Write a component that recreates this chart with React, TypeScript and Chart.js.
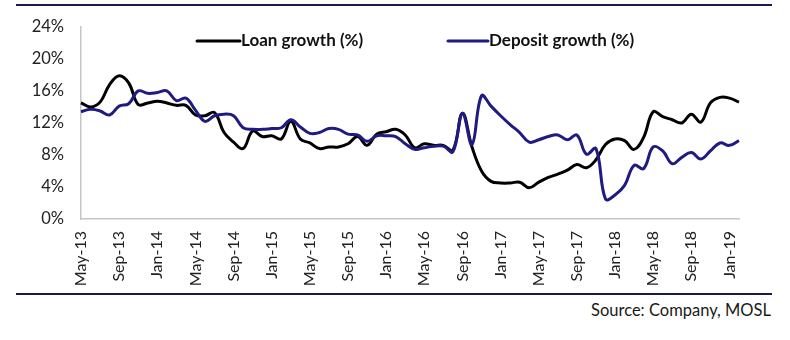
import React, { useEffect, useRef } from 'react';
import { Chart, registerables } from 'chart.js';

Chart.register(...registerables);

const categories = [
  'May-13', 'Jun-13', 'Jul-13', 'Aug-13', 'Sep-13', 'Oct-13', 'Nov-13', 'Dec-13',
  'Jan-14', 'Feb-14', 'Mar-14', 'Apr-14', 'May-14', 'Jun-14', 'Jul-14', 'Aug-14',
  'Sep-14', 'Oct-14', 'Nov-14', 'Dec-14', 'Jan-15', 'Feb-15', 'Mar-15', 'Apr-15',
  'May-15', 'Jun-15', 'Jul-15', 'Aug-15', 'Sep-15', 'Oct-15', 'Nov-15', 'Dec-15',
  'Jan-16', 'Feb-16', 'Mar-16', 'Apr-16', 'May-16', 'Jun-16', 'Jul-16', 'Aug-16',
  'Sep-16', 'Oct-16', 'Nov-16', 'Dec-16', 'Jan-17', 'Feb-17', 'Mar-17', 'Apr-17',
  'May-17', 'Jun-17', 'Jul-17', 'Aug-17', 'Sep-17', 'Oct-17', 'Nov-17', 'Dec-17',
  'Jan-18', 'Feb-18', 'Mar-18', 'Apr-18', 'May-18', 'Jun-18', 'Jul-18', 'Aug-18',
  'Sep-18', 'Oct-18', 'Nov-18', 'Dec-18', 'Jan-19', 'Feb-19',
];

const loanGrowth = [
  14.5, 14.0, 14.6, 16.8, 17.9, 17.0, 14.3, 14.5,
  14.7, 14.5, 14.2, 14.2, 13.0, 12.9, 13.3, 10.8,
  9.6, 8.8, 11.0, 10.3, 10.4, 10.0, 12.2, 10.0,
  9.5, 8.8, 9.0, 9.0, 9.4, 10.3, 9.2, 10.6,
  10.9, 11.2, 10.5, 8.9, 9.4, 9.2, 9.2, 8.6,
  13.2, 9.0, 6.0, 4.7, 4.5, 4.5, 4.6, 3.9,
  4.6, 5.2, 5.6, 6.1, 6.8, 6.4, 7.4, 9.3,
  10.0, 9.8, 8.7, 10.2, 13.4, 12.8, 12.4, 12.0,
  13.1, 12.1, 14.5, 15.2, 15.1, 14.6,
];

const depositGrowth = [
  13.4, 13.7, 13.5, 13.0, 14.1, 14.4, 16.0, 15.7,
  15.8, 16.0, 14.8, 15.1, 13.6, 12.2, 12.9, 13.1,
  12.9, 11.4, 11.2, 11.2, 11.3, 11.4, 12.4, 11.5,
  10.7, 10.8, 11.3, 11.2, 10.6, 10.5, 9.7, 10.4,
  10.4, 10.3, 9.4, 8.7, 8.9, 9.1, 9.1, 8.4,
  13.2, 9.3, 15.4, 14.1, 12.9, 11.8, 10.8, 9.6,
  9.9, 10.3, 10.5, 9.9, 10.5, 8.1, 8.8, 2.5,
  3.0, 4.2, 6.7, 6.3, 9.0, 8.5, 6.9, 7.7,
  8.3, 7.5, 8.5, 9.5, 9.2, 9.8,
];

const seriesNames = ['Loan growth (%)', 'Deposit growth (%)'];
const yTickValues = [0, 4, 8, 12, 16, 20, 24];
const sourceText = 'Source: Company, MOSL';

const FONT = 'Lato, "Open Sans", sans-serif';
const LOAN_COLOR = '#000000';
const DEPOSIT_COLOR = '#201b82';
const RULE_COLOR = '#1c1a4a';

const legendPlacement = [
  { x0: 197, x1: 240 },
  { x0: 448, x1: 488 },
];

const insideLegend = {
  id: 'insideLegend',
  afterDraw(chart: any) {
    const ctx = chart.ctx;
    const y = 41;
    ctx.save();
    chart.data.datasets.forEach((ds: any, i: number) => {
      const p = legendPlacement[i];
      ctx.strokeStyle = ds.borderColor;
      ctx.lineWidth = 3;
      ctx.lineCap = 'round';
      ctx.beginPath();
      ctx.moveTo(p.x0, y);
      ctx.lineTo(p.x1, y);
      ctx.stroke();
      ctx.fillStyle = '#111111';
      ctx.font = `bold 17px ${FONT}`;
      ctx.textAlign = 'left';
      ctx.textBaseline = 'middle';
      ctx.fillText(ds.label, p.x1 + 1, y);
    });
    ctx.restore();
  },
};

export default function App() {
  const canvasRef = useRef<HTMLCanvasElement | null>(null);

  useEffect(() => {
    document.body.style.margin = '0';
    const canvas = canvasRef.current;
    if (!canvas) return;
    const chart = new Chart(canvas, {
      type: 'line',
      data: {
        labels: categories,
        datasets: [
          {
            label: seriesNames[0],
            data: loanGrowth,
            borderColor: LOAN_COLOR,
            backgroundColor: LOAN_COLOR,
            borderWidth: 3,
            pointRadius: 0,
            tension: 0.4,
            order: 1,
          },
          {
            label: seriesNames[1],
            data: depositGrowth,
            borderColor: DEPOSIT_COLOR,
            backgroundColor: DEPOSIT_COLOR,
            borderWidth: 3,
            pointRadius: 0,
            tension: 0.4,
            order: 0,
          },
        ],
      },
      options: {
        responsive: false,
        animation: false,
        devicePixelRatio: 1,
        layout: { padding: { top: 21, right: 51, left: 0, bottom: 0 } },
        plugins: {
          legend: { display: false },
          tooltip: { enabled: false },
        },
        scales: {
          x: {
            type: 'category',
            offset: false,
            grid: { display: false, drawTicks: false },
            border: { display: true, color: '#c6c6c6', width: 1.5 },
            ticks: {
              autoSkip: false,
              minRotation: 90,
              maxRotation: 90,
              padding: 12,
              color: '#222222',
              font: { family: FONT, size: 16 },
              callback: (_v: any, i: number) => (i % 4 === 0 ? categories[i] : ''),
            },
            afterFit: (scale: any) => {
              scale.height = 81;
            },
          },
          y: {
            min: 0,
            max: 24,
            grid: { display: false, drawTicks: false },
            border: { display: true, color: '#c6c6c6', width: 1.5 },
            afterBuildTicks: (scale: any) => {
              scale.ticks = yTickValues.map((v) => ({ value: v }));
            },
            ticks: {
              padding: 17,
              color: '#222222',
              font: { family: FONT, size: 16.5 },
              callback: (v: any) => `${v}%`,
            },
            afterFit: (scale: any) => {
              scale.width = 81;
            },
          },
        },
      },
      plugins: [insideLegend],
    });
    return () => chart.destroy();
  }, []);

  return (
    <div style={{ position: 'relative', width: 790, height: 340, background: '#ffffff', overflow: 'hidden' }}>
      <div style={{ position: 'absolute', left: 16, top: 4, width: 756, height: 2, background: RULE_COLOR }} />
      <canvas ref={canvasRef} width={790} height={300} style={{ position: 'absolute', left: 0, top: 0, width: 790, height: 300 }} />
      <div style={{ position: 'absolute', left: 16, top: 293, width: 756, height: 2, background: RULE_COLOR }} />
      <div
        style={{
          position: 'absolute',
          right: 19,
          top: 300,
          fontFamily: FONT,
          fontSize: 16.5,
          color: '#1a1a1a',
          lineHeight: '20px',
          whiteSpace: 'nowrap',
        }}
      >
        {sourceText}
      </div>
    </div>
  );
}
